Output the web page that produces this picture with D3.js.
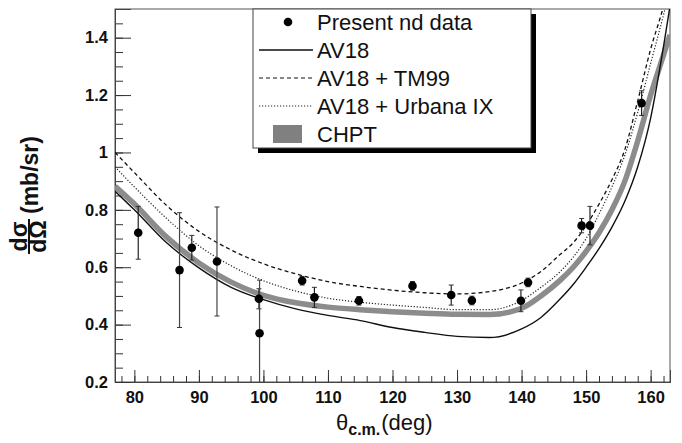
<!DOCTYPE html>
<html>
<head>
<meta charset="utf-8">
<script src="https://cdn.jsdelivr.net/npm/d3@7"></script>
<style>
  body { margin: 0; background: #fff; }
  svg { font-family: "Liberation Sans", Arial, sans-serif; }
</style>
</head>
<body>
<div id="chart"></div>
<script>
// measured data points: angle (deg), cross section (mb/sr), error
const angles = [80.6, 87.0, 88.9, 92.8, 99.3, 99.4, 106.0, 107.9, 114.8, 123.1, 129.1, 132.3, 139.9, 141.0, 149.3, 150.6, 158.6];
const values = [0.72, 0.59, 0.668, 0.62, 0.49, 0.37, 0.553, 0.495, 0.483, 0.535, 0.503, 0.484, 0.483, 0.547, 0.745, 0.745, 1.172];
const errors = [0.092, 0.20, 0.043, 0.19, 0.035, 0.185, 0.015, 0.035, 0.015, 0.015, 0.035, 0.015, 0.038, 0.015, 0.025, 0.067, 0.043];

// theory curves on a common angle grid
const grid = [77, 80, 85, 90, 95, 100, 105, 110, 115, 120, 125, 130, 135, 140, 143, 146, 148, 150, 152, 154, 156, 158, 160, 162, 163];
const av18 = [0.865, 0.80, 0.685, 0.598, 0.530, 0.487, 0.455, 0.432, 0.414, 0.390, 0.373, 0.359, 0.355, 0.385, 0.425, 0.49, 0.54, 0.60, 0.665, 0.74, 0.83, 0.95, 1.12, 1.37, 1.51];
const tm99 = [1.0, 0.93, 0.815, 0.725, 0.66, 0.612, 0.577, 0.55, 0.533, 0.52, 0.511, 0.507, 0.515, 0.545, 0.585, 0.645, 0.685, 0.745, 0.82, 0.905, 1.01, 1.18, 1.36, 1.51, 1.6];
const urbana = [0.95, 0.88, 0.77, 0.675, 0.605, 0.553, 0.517, 0.492, 0.478, 0.468, 0.46, 0.452, 0.452, 0.484, 0.53, 0.585, 0.635, 0.70, 0.785, 0.88, 0.99, 1.14, 1.31, 1.48, 1.57];
const chpt = [0.882, 0.82, 0.705, 0.615, 0.548, 0.502, 0.476, 0.461, 0.452, 0.445, 0.44, 0.436, 0.435, 0.457, 0.5, 0.555, 0.6, 0.655, 0.72, 0.80, 0.90, 1.04, 1.20, 1.34, 1.41];

const legendLabels = ["Present nd data", "AV18", "AV18 + TM99", "AV18 + Urbana IX", "CHPT"];

const width = 682, height = 443;
const margin = { top: 9, right: 12, bottom: 61, left: 115 };

const svg = d3.select("#chart").append("svg")
    .attr("width", width)
    .attr("height", height);

const x = d3.scaleLinear().domain([77, 163]).range([margin.left, width - margin.right]);
const y = d3.scaleLinear().domain([0.2, 1.5]).range([height - margin.bottom, margin.top]);

const plotH = y(0.2) - y(1.5);

svg.append("clipPath").attr("id", "clip")
    .append("rect")
    .attr("x", x(77)).attr("y", y(1.5))
    .attr("width", x(163) - x(77)).attr("height", plotH);

// frame
svg.append("rect")
    .attr("x", x(77)).attr("y", y(1.5))
    .attr("width", x(163) - x(77)).attr("height", plotH)
    .attr("fill", "none").attr("stroke", "#555").attr("stroke-width", 1);

// x axis, ticks pointing up
const xAxis = svg.append("g").attr("transform", `translate(0,${y(0.2)})`);
xAxis.call(d3.axisBottom(x).tickValues(d3.range(78, 163, 2)).tickSize(-6).tickFormat(""));
xAxis.append("g").call(d3.axisBottom(x).tickValues(d3.range(80, 161, 10)).tickSize(-12).tickFormat(d3.format("d")));
xAxis.selectAll(".domain").attr("stroke", "#444");
xAxis.selectAll("line").attr("stroke", "#333");
xAxis.selectAll("text")
    .attr("font-size", 16.5).attr("font-weight", "bold").attr("fill", "#111")
    .attr("dy", "0.35em").attr("y", 15);

// y axis, ticks pointing right
const yAxis = svg.append("g").attr("transform", `translate(${x(77)},0)`);
yAxis.call(d3.axisLeft(y).tickValues(d3.range(0.25, 1.501, 0.05)).tickSize(-8).tickFormat(""));
yAxis.append("g").call(d3.axisLeft(y).tickValues([0.2, 0.4, 0.6, 0.8, 1, 1.2, 1.4]).tickSize(-16).tickFormat(d => d3.format("")(d)));
yAxis.selectAll(".domain").attr("stroke", "#444");
yAxis.selectAll("line").attr("stroke", "#333");
yAxis.selectAll("text")
    .attr("font-size", 16.5).attr("font-weight", "bold").attr("fill", "#111")
    .attr("x", -7);

// curves
const line = d3.line()
    .x((d, i) => x(grid[i]))
    .y(d => y(d))
    .curve(d3.curveMonotoneX);

const plot = svg.append("g").attr("clip-path", "url(#clip)");

plot.append("path").datum(chpt)
    .attr("d", line).attr("fill", "none")
    .attr("stroke", "#8c8c8c").attr("stroke-width", 5.5);

plot.append("path").datum(av18)
    .attr("d", line).attr("fill", "none")
    .attr("stroke", "#111").attr("stroke-width", 1.4);

plot.append("path").datum(tm99)
    .attr("d", line).attr("fill", "none")
    .attr("stroke", "#111").attr("stroke-width", 1.3)
    .attr("stroke-dasharray", "4,3");

plot.append("path").datum(urbana)
    .attr("d", line).attr("fill", "none")
    .attr("stroke", "#222").attr("stroke-width", 1.2)
    .attr("stroke-dasharray", "1.2,1.8");

// error bars and points
const pts = angles.map((a, i) => ({ a: a, v: values[i], e: errors[i] }));
const eb = plot.selectAll("g.eb").data(pts).enter().append("g").attr("class", "eb");
eb.append("line")
    .attr("x1", d => x(d.a)).attr("x2", d => x(d.a))
    .attr("y1", d => y(d.v - d.e)).attr("y2", d => y(d.v + d.e))
    .attr("stroke", d => d.e > 0.15 ? "#444" : "#222").attr("stroke-width", 1.2);
eb.append("line")
    .attr("x1", d => x(d.a) - 2.5).attr("x2", d => x(d.a) + 2.5)
    .attr("y1", d => y(d.v + d.e)).attr("y2", d => y(d.v + d.e))
    .attr("stroke", "#333").attr("stroke-width", 1);
eb.append("line")
    .attr("x1", d => x(d.a) - 2.5).attr("x2", d => x(d.a) + 2.5)
    .attr("y1", d => y(d.v - d.e)).attr("y2", d => y(d.v - d.e))
    .attr("stroke", "#333").attr("stroke-width", 1);
plot.selectAll("circle.pt").data(pts).enter().append("circle")
    .attr("class", "pt")
    .attr("cx", d => x(d.a)).attr("cy", d => y(d.v))
    .attr("r", 4.3).attr("fill", "#000");

// legend
const lg = svg.append("g");
const lx = 253, ly = y(1.5), lw = 278, lh = 139;
lg.append("rect").attr("x", lx + 5).attr("y", ly + 5).attr("width", lw).attr("height", lh).attr("fill", "#000");
lg.append("rect").attr("x", lx).attr("y", ly).attr("width", lw).attr("height", lh)
    .attr("fill", "#fff").attr("stroke", "#444").attr("stroke-width", 1);

const rowY = i => ly + 13 + i * 28;
lg.selectAll("text").data(legendLabels).enter().append("text")
    .attr("x", 317).attr("y", (d, i) => rowY(i))
    .attr("dy", "0.36em")
    .attr("font-size", 22).attr("fill", "#111")
    .text(d => d);
lg.append("circle").attr("cx", 288).attr("cy", rowY(0)).attr("r", 4.3).attr("fill", "#000");
lg.append("line").attr("x1", 259).attr("x2", 313).attr("y1", rowY(1)).attr("y2", rowY(1))
    .attr("stroke", "#111").attr("stroke-width", 1.4);
lg.append("line").attr("x1", 259).attr("x2", 313).attr("y1", rowY(2)).attr("y2", rowY(2))
    .attr("stroke", "#111").attr("stroke-width", 1.2).attr("stroke-dasharray", "4,3");
lg.append("line").attr("x1", 259).attr("x2", 313).attr("y1", rowY(3)).attr("y2", rowY(3))
    .attr("stroke", "#222").attr("stroke-width", 1.1).attr("stroke-dasharray", "1.2,1.8");
lg.append("rect").attr("x", 273).attr("y", rowY(4) - 9).attr("width", 29).attr("height", 18)
    .attr("fill", "#808080");

// x title
const xt = svg.append("text").attr("x", 336).attr("y", 430).attr("fill", "#111");
xt.append("tspan").attr("font-size", 22).text("θ");
xt.append("tspan").attr("font-size", 16).attr("font-weight", "bold").attr("dy", 5).text("c.m.");
xt.append("tspan").attr("font-size", 22).attr("dy", -5).attr("dx", 1).text("(deg)");

// y title
const yt = svg.append("g").attr("transform", "translate(29,254) rotate(-90)")
    .attr("font-weight", "bold").attr("fill", "#111");
yt.append("line").attr("x1", 0).attr("x2", 35).attr("y1", 0).attr("y2", 0)
    .attr("stroke", "#111").attr("stroke-width", 2);
yt.append("text").attr("x", 17.5).attr("y", -2).attr("text-anchor", "middle")
    .attr("font-size", 23).text("dσ");
yt.append("text").attr("x", 17.5).attr("y", 17).attr("text-anchor", "middle")
    .attr("font-size", 23).text("dΩ");
yt.append("text").attr("x", 40).attr("y", 9).attr("font-size", 23).text("(mb/sr)");
</script>
</body>
</html>
